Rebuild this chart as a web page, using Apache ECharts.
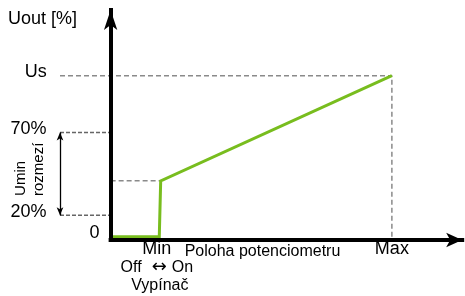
<!DOCTYPE html>
<html><head><meta charset="utf-8">
<script src="https://cdn.jsdelivr.net/npm/echarts@6/dist/echarts.min.js"></script>
<style>html,body{margin:0;padding:0;background:#fff}#c{width:465px;height:296px}</style>
</head><body><div id="c"></div>
<script>
const FONT = '"Liberation Sans", Arial, sans-serif';

// ---- data ----
const outputCurve = [[0.5, 2], [17.3, 2], [17.8, 36], [100, 100]];
const yTickValues = [0, 15, 65.5, 100];
const yTickLabels = ['0', '20%', '70%', 'Us'];
const xTickValues = [17.5, 100];
const xTickLabels = ['Min', 'Max'];
const switchLabels = ['Off', '\u2194', 'On', 'Vyp\u00edna\u010d'];
const usGuide = [[-18, 100], [100, 100], [100, 0]];
const jumpGuide = [[0, 36], [17.8, 36]];
const uminTopGuide = [[-18, 65.5], [0, 65.5]];
const uminBottomGuide = [[-18, 15], [0, 15]];
const uminRange = [15, 65.5];
const uminLabel = ['Umin', 'rozmez\u00ed'];
const xExtent = [-18, 126];
const yExtent = [0, 140];
const axisEnds = { x: 125, y: 140 };
const yTitle = 'Uout [%]';
const xTitle = 'Poloha potenciometru';

const GRID = { left: 60, right: 0, top: 10, bottom: 56 };
const gridWidth = 465 - GRID.left - GRID.right;
// place the vertical axis at x = 0
const yAxisOffset = -gridWidth * (0 - xExtent[0]) / (xExtent[1] - xExtent[0]);

const chart = echarts.init(document.getElementById('c'), null, { renderer: 'canvas' });

const dashed = (data, color, dash) => ({
  type: 'line', data, symbol: 'none', silent: true, clip: false, z: 2,
  lineStyle: { color, width: 1.5, type: dash }
});

chart.setOption({
  animation: false,
  textStyle: { fontFamily: FONT, color: '#000' },
  title: {
    text: yTitle, left: 8, top: 10, padding: 0,
    textStyle: { fontSize: 18, fontWeight: 'normal', color: '#000', fontFamily: FONT }
  },
  grid: Object.assign({ containLabel: false, outerBoundsMode: 'none' }, GRID),
  xAxis: {
    type: 'value', min: xExtent[0], max: xExtent[1],
    axisLine: { show: false, onZero: true }, axisTick: { show: false }, splitLine: { show: false },
    name: xTitle, nameLocation: 'middle', nameGap: 4, nameMoveOverlap: false,
    nameTextStyle: { fontSize: 16, color: '#000', fontFamily: FONT, verticalAlign: 'top' },
    axisLabel: {
      customValues: xTickValues, margin: 0, color: '#000', fontFamily: FONT,
      formatter: v => {
        const i = xTickValues.indexOf(v);
        if (i === 0) return '{m|' + xTickLabels[0] + '}\n{s|' + switchLabels[0] + '}{ar|' + switchLabels[1] +
          '}{on|' + switchLabels[2] + '}\n{s|' + switchLabels[3] + '}';
        return '{mx|' + xTickLabels[i] + '}';
      },
      rich: {
        m: { fontSize: 18, lineHeight: 18, color: '#000', fontFamily: FONT, padding: [0, 6, 0, 0] },
        mx: { fontSize: 18, lineHeight: 18, color: '#000', fontFamily: FONT },
        s: { fontSize: 16, lineHeight: 18.5, color: '#000', fontFamily: FONT },
        on: { fontSize: 16, lineHeight: 18.5, color: '#000', fontFamily: FONT, padding: [0, 6, 0, 0] },
        ar: { fontSize: 18, lineHeight: 18.5, color: '#000', fontFamily: '"DejaVu Sans"', padding: [0, 5, 0, 10] }
      }
    }
  },
  yAxis: {
    type: 'value', min: yExtent[0], max: yExtent[1], position: 'left', offset: yAxisOffset,
    axisLine: { show: false, onZero: false }, axisTick: { show: false }, splitLine: { show: false },
    axisLabel: {
      customValues: yTickValues, margin: 11, color: '#000', fontFamily: FONT,
      formatter: v => {
        const i = yTickValues.indexOf(v);
        return (i === 0 ? '{z|' : '{t|') + yTickLabels[i] + '}';
      },
      rich: {
        t: { fontSize: 18, color: '#000', fontFamily: FONT, padding: [0, 53, 7, 0] },
        z: { fontSize: 18, color: '#000', fontFamily: FONT, padding: [0, 0, 13, 0] }
      }
    }
  },
  series: [
    dashed(usGuide, '#8a8a8a', [5, 3]),
    dashed(jumpGuide, '#8a8a8a', [5, 3]),
    dashed(uminTopGuide, '#666', [4, 2]),
    dashed(uminBottomGuide, '#666', [4, 2]),
    {
      name: 'Uout', type: 'line', data: outputCurve, symbol: 'none', z: 3, clip: false,
      lineStyle: { color: '#78bd1e', width: 3, join: 'miter' }
    },
    {
      type: 'line', data: [], clip: false, z: 4,
      markLine: {
        silent: true, symbol: ['none', 'arrow'], label: { show: false },
        lineStyle: { color: '#000', width: 4, type: 'solid', cap: 'square' },
        data: [
          [{ coord: [0, yExtent[0]] }, { coord: [0, axisEnds.y], symbolSize: [10, 20] }],
          [{ coord: [0, yExtent[0]] }, { coord: [axisEnds.x, yExtent[0]], symbolSize: [11, 16] }]
        ]
      }
    },
    {
      type: 'line', data: [], clip: false, z: 4,
      markLine: {
        silent: true, symbol: ['arrow', 'arrow'], symbolSize: [5, 8],
        lineStyle: { color: '#000', width: 1.3, type: 'solid' },
        label: {
          show: true, position: 'middle', distance: 12,
          formatter: '{a|' + uminLabel[0] + '}\n{b|' + uminLabel[1] + '}',
          rich: {
            a: { fontSize: 15, lineHeight: 18, color: '#000', fontFamily: FONT, padding: [0, 9, 0, 0] },
            b: { fontSize: 15, lineHeight: 18, color: '#000', fontFamily: FONT, padding: [0, 0, 0, 9] }
          }
        },
        data: [[{ coord: [xExtent[0], uminRange[0]] }, { coord: [xExtent[0], uminRange[1]] }]]
      }
    }
  ]
});
</script>
</body></html>
